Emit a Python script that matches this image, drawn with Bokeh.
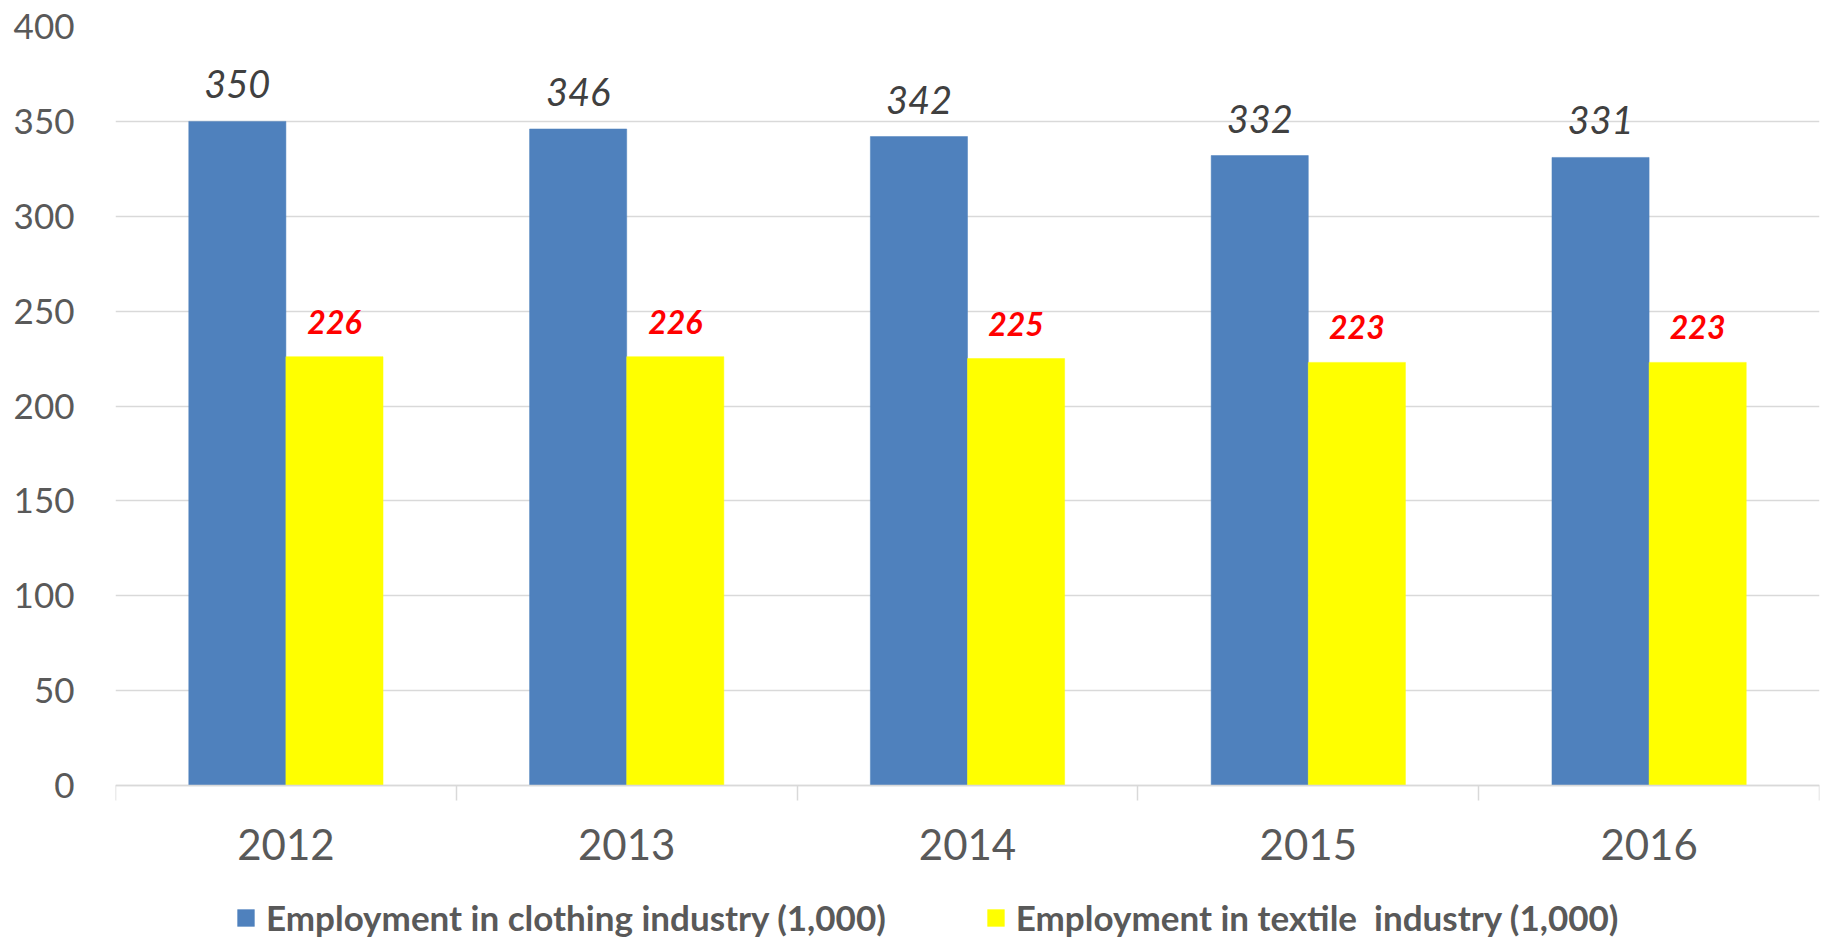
from bokeh.plotting import figure
from bokeh.models import (ColumnDataSource, Range1d, FixedTicker, LabelSet,
                          Legend, LegendItem)
from bokeh.transform import dodge
from bokeh.core.properties import value
from bokeh.embed import file_html
from bokeh.resources import INLINE

years = ["2012", "2013", "2014", "2015", "2016"]
clothing = [350, 346, 342, 332, 331]
textile = [226, 226, 225, 223, 223]
y_ticks = [0, 50, 100, 150, 200, 250, 300, 350, 400]
clothing_name = "Employment in clothing industry (1,000)"
textile_name = "Employment in textile  industry (1,000)"

idx = list(range(len(years)))
src = ColumnDataSource(dict(
    x=idx,
    clothing=clothing,
    textile=textile,
    clothing_lbl=[str(v) for v in clothing],
    textile_lbl=[str(v) for v in textile],
))

GRAY = "#595959"
GRID = "#D9D9D9"
FONT = "Lato"
BW = 0.285
Y_BOTTOM = -80.6  # room below zero for the year labels and the legend

p = figure(width=1823, height=938, output_backend="svg", toolbar_location=None,
           x_range=Range1d(-0.5, len(years) - 0.5), y_range=Range1d(Y_BOTTOM, y_ticks[-1]),
           min_border_left=115, min_border_right=4, min_border_top=26, min_border_bottom=0)
p.outline_line_color = None
p.background_fill_color = "white"
p.border_fill_color = "white"

r1 = p.vbar(x=dodge("x", -BW / 2), top="clothing", width=BW, source=src,
            fill_color="#4F81BD", line_color="#4F81BD", line_width=0.5)
r2 = p.vbar(x=dodge("x", BW / 2), top="textile", width=BW, source=src,
            fill_color="#FFFF00", line_color="#FFFF00", line_width=0.5)

# x axis, drawn at y = 0
xa = p.xaxis[0]
xa.fixed_location = 0
xa.ticker = FixedTicker(ticks=idx, minor_ticks=[i - 0.5 for i in idx] + [idx[-1] + 0.5])
xa.major_label_overrides = {i: y for i, y in zip(idx, years)}
xa.major_tick_line_color = None
xa.major_tick_out = 0
xa.major_tick_in = 0
xa.minor_tick_out = 15
xa.minor_tick_in = 0
xa.minor_tick_line_color = GRID
xa.minor_tick_line_width = 1.5
xa.axis_line_color = GRID
xa.axis_line_width = 1.5
xa.major_label_text_font = FONT
xa.major_label_text_font_size = "42px"
xa.major_label_text_color = GRAY
xa.major_label_standoff = 28

# y axis
ya = p.yaxis[0]
ya.ticker = FixedTicker(ticks=y_ticks, minor_ticks=[])
ya.axis_line_color = None
ya.major_tick_line_color = None
ya.major_tick_out = 0
ya.major_tick_in = 0
ya.minor_tick_line_color = None
ya.major_label_text_font = FONT
ya.major_label_text_font_size = "35px"
ya.major_label_text_color = GRAY
ya.major_label_standoff = 41

p.xgrid.grid_line_color = None
p.ygrid.grid_line_color = GRID
p.ygrid.grid_line_width = 1.5

# data labels
l1 = LabelSet(x=dodge("x", -BW / 2), y="clothing", text="clothing_lbl", source=src,
              text_align="center", text_baseline="alphabetic", y_offset=23,
              text_font=value(FONT), text_font_style="italic",
              text_font_size="38px", text_color="#404040")
l2 = LabelSet(x=dodge("x", BW / 2), y="textile", text="textile_lbl", source=src,
              text_align="center", text_baseline="alphabetic", y_offset=23,
              text_font=value(FONT), text_font_style="bold italic",
              text_font_size="32px", text_color="#FF0000")
p.add_layout(l1)
p.add_layout(l2)

# legend
legend = Legend(items=[LegendItem(label=clothing_name, renderers=[r1]),
                       LegendItem(label=textile_name, renderers=[r2])],
                location=(120, 0), orientation="horizontal",
                padding=0, margin=0, spacing=99,
                glyph_width=21, glyph_height=21, label_height=21, label_standoff=10,
                label_text_font=FONT, label_text_font_style="bold",
                label_text_font_size="35px", label_text_color=GRAY,
                label_text_baseline="middle",
                border_line_color=None, background_fill_alpha=0)
p.add_layout(legend, "center")

open("out.html", "w").write(file_html(p, INLINE))
